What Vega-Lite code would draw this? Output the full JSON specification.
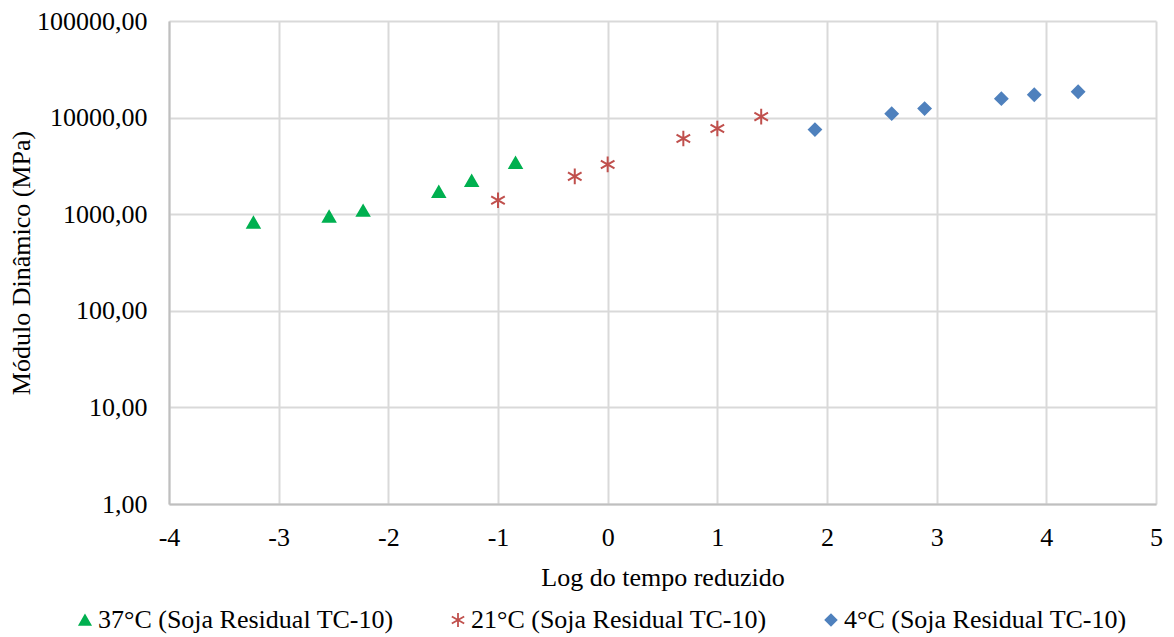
{
  "$schema": "https://vega.github.io/schema/vega-lite/v6.json",
  "autosize": "none",
  "padding": {"left": 169, "top": 21, "right": 18, "bottom": 133},
  "width": 987,
  "height": 483,
  "background": "white",
  "config": {
    "font": "Liberation Serif",
    "view": {"stroke": null}
  },
  "data": {
    "values": [
      {"serie": "37°C (Soja Residual TC-10)", "logt": -3.23, "E": 819},
      {"serie": "37°C (Soja Residual TC-10)", "logt": -2.54, "E": 945},
      {"serie": "37°C (Soja Residual TC-10)", "logt": -2.23, "E": 1089},
      {"serie": "37°C (Soja Residual TC-10)", "logt": -1.54, "E": 1711},
      {"serie": "37°C (Soja Residual TC-10)", "logt": -1.24, "E": 2224},
      {"serie": "37°C (Soja Residual TC-10)", "logt": -0.84, "E": 3414},
      {"serie": "21°C (Soja Residual TC-10)", "logt": -1.0, "E": 1394},
      {"serie": "21°C (Soja Residual TC-10)", "logt": -0.3, "E": 2465},
      {"serie": "21°C (Soja Residual TC-10)", "logt": 0.0, "E": 3274},
      {"serie": "21°C (Soja Residual TC-10)", "logt": 0.69, "E": 6080},
      {"serie": "21°C (Soja Residual TC-10)", "logt": 1.0, "E": 7710},
      {"serie": "21°C (Soja Residual TC-10)", "logt": 1.4, "E": 10240},
      {"serie": "4°C (Soja Residual TC-10)", "logt": 1.89, "E": 7515},
      {"serie": "4°C (Soja Residual TC-10)", "logt": 2.59, "E": 10990},
      {"serie": "4°C (Soja Residual TC-10)", "logt": 2.89, "E": 12400},
      {"serie": "4°C (Soja Residual TC-10)", "logt": 3.59, "E": 15700},
      {"serie": "4°C (Soja Residual TC-10)", "logt": 3.89, "E": 17250},
      {"serie": "4°C (Soja Residual TC-10)", "logt": 4.29, "E": 18540}
    ]
  },
  "mark": {"type": "point", "filled": true, "opacity": 1, "size": 145, "strokeWidth": 2},
  "encoding": {
    "x": {
      "field": "logt", "type": "quantitative",
      "scale": {"domain": [-4, 5], "nice": false, "zero": false},
      "axis": {
        "title": "Log do tempo reduzido",
        "titleFontSize": 26, "titleFontWeight": "normal", "titleColor": "#000", "titlePadding": 14,
        "labelFontSize": 26, "labelColor": "#000", "labelPadding": 20,
        "values": [-4, -3, -2, -1, 0, 1, 2, 3, 4, 5],
        "labelExpr": "datum.value + ''",
        "ticks": false, "domainColor": "#bfbfbf", "domainWidth": 2,
        "grid": true, "gridColor": "#d9d9d9", "gridWidth": 2,
        "labelFlush": false
      }
    },
    "y": {
      "field": "E", "type": "quantitative",
      "scale": {"type": "log", "domain": [1, 100000], "nice": false},
      "axis": {
        "title": "Módulo Dinâmico (MPa)",
        "titleFontSize": 26, "titleFontWeight": "normal", "titleColor": "#000", "titlePadding": 2,
        "labelFontSize": 26, "labelColor": "#000", "labelPadding": 22,
        "values": [1, 10, 100, 1000, 10000, 100000],
        "labelExpr": "replace(format(datum.value, '.2f'), '.', ',')",
        "ticks": false, "domainColor": "#bfbfbf", "domainWidth": 2,
        "grid": true, "gridColor": "#d9d9d9", "gridWidth": 2,
        "labelFlush": false
      }
    },
    "color": {
      "field": "serie", "type": "nominal",
      "scale": {
        "domain": ["37°C (Soja Residual TC-10)", "21°C (Soja Residual TC-10)", "4°C (Soja Residual TC-10)"],
        "range": ["#00b050", "#c0504d", "#4f81bd"]
      },
      "legend": {
        "orient": "none", "legendX": -97, "legendY": 586, "direction": "horizontal", "title": null,
        "labelFontSize": 26, "labelColor": "#000", "labelLimit": 400, "labelOffset": 0,
        "symbolSize": 120, "columnPadding": 51, "symbolStrokeWidth": 1.8
      }
    },
    "stroke": {
      "field": "serie", "type": "nominal",
      "scale": {
        "domain": ["37°C (Soja Residual TC-10)", "21°C (Soja Residual TC-10)", "4°C (Soja Residual TC-10)"],
        "range": ["#00b050", "#c0504d", "#4f81bd"]
      },
      "legend": null
    },
    "shape": {
      "field": "serie", "type": "nominal",
      "scale": {
        "domain": ["37°C (Soja Residual TC-10)", "21°C (Soja Residual TC-10)", "4°C (Soja Residual TC-10)"],
        "range": ["triangle-up", "M0,-1.3L0,1.3M-1.13,-0.65L1.13,0.65M-1.13,0.65L1.13,-0.65", "diamond"]
      },
      "legend": null
    }
  }
}
